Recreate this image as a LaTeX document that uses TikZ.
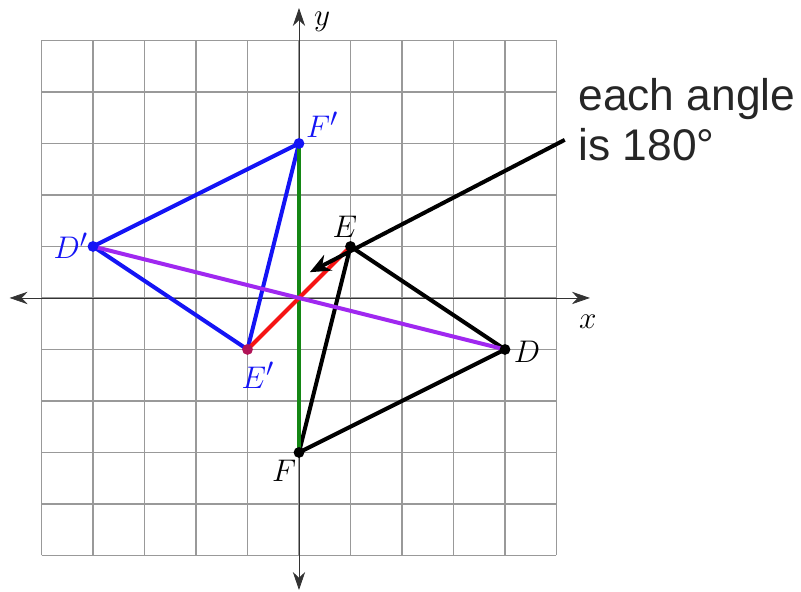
\documentclass[tikz,border=0pt]{standalone}
\usepackage{fontspec}
\newfontfamily\notefont{Liberation Sans}
\usepackage{tikz}
\usetikzlibrary{arrows.meta,positioning,calc}
\definecolor{ptblue}{RGB}{20,20,245}
\definecolor{ptpurple}{RGB}{160,40,240}
\definecolor{ptgreen}{RGB}{20,135,20}
\definecolor{ptred}{RGB}{245,20,20}
\tikzstyle{axis} = [thin, black!80, {Stealth[length=3.5mm,width=2.4mm]}-{Stealth[length=3.5mm,width=2.4mm]}]
\tikzstyle{seg} = [line width=2.2pt, line cap=round, line join=round]
\tikzstyle{dot} = [circle, fill, inner sep=0pt, minimum size=2.1mm]
\tikzstyle{lbl} = [font=\fontsize{19}{22}\selectfont, inner sep=1pt]

\begin{document}
\begin{tikzpicture}
                \useasboundingbox (-5.806,-5.709) rectangle (9.748,5.786);
                % grid
                \draw[black!40, line width=0.8pt] (-5,-5) grid (5,5);
                % axes
                \coordinate (xl) at (-5.62,0);
                \coordinate (xr) at (5.65,0);
                \coordinate (yb) at (0,-5.67);
                \coordinate (yt) at (0,5.63);
                \draw[axis] (xl) -- (xr);
                \draw[axis] (yb) -- (yt);
                \node[lbl] (xlab) at (5.61,-0.47) {$x$};
                \node[lbl] (ylab) at (0.45,5.36) {$y$};
                % points
                \coordinate (D) at (4,-1);
                \coordinate (E) at (1,1);
                \coordinate (F) at (0,-3);
                \coordinate (Dp) at (-4,1);
                \coordinate (Ep) at (-1,-1);
                \coordinate (Fp) at (0,3);
                \coordinate (O) at (0,0);
                % triangles
                \draw[seg, ptblue] (Dp) -- (Fp) -- (Ep) -- cycle;
                \draw[seg, black] (D) -- (E) -- (F) -- cycle;
                \draw[seg, ptgreen] (Fp) -- (F);
                \draw[seg, ptred] (Ep) -- (E);
                \draw[seg, ptpurple] (Dp) -- (D);
                \node[dot, ptblue] at (Dp) {};
                \node[dot, ptblue] at (Fp) {};
                \node[dot, ptred!70!ptblue] at (Ep) {};
                \node[dot, black] at (D) {};
                \node[dot, black] at (E) {};
                \node[dot, black] at (F) {};
                % labels
                \node[lbl, ptblue] (Fplab) at (0.45,3.36) {$F'$};
                \node[lbl, ptblue] (Dplab) at (-4.43,1.01) {$D'$};
                \node[lbl, ptblue] (Eplab) at (-0.80,-1.50) {$E'$};
                \node[lbl] (Elab) at (0.89,1.38) {$E$};
                \node[lbl] (Dlab) at (4.43,-1.05) {$D$};
                \node[lbl] (Flab) at (-0.29,-3.36) {$F$};
                % note
                \node[anchor=north west, align=left, inner sep=0pt, font=\notefont\fontsize{24.5}{27.6}\selectfont, text=black!85] (note) at (5.42,4.27) {each angle\\is 180°};
                \coordinate (ntail) at (5.16,3.07);
                \coordinate (nhead) at (0.21,0.50);
                \draw[line width=2.2pt, -{Stealth[length=4mm,width=3.4mm]}] (ntail) -- (nhead);
            \end{tikzpicture}
\end{document}
